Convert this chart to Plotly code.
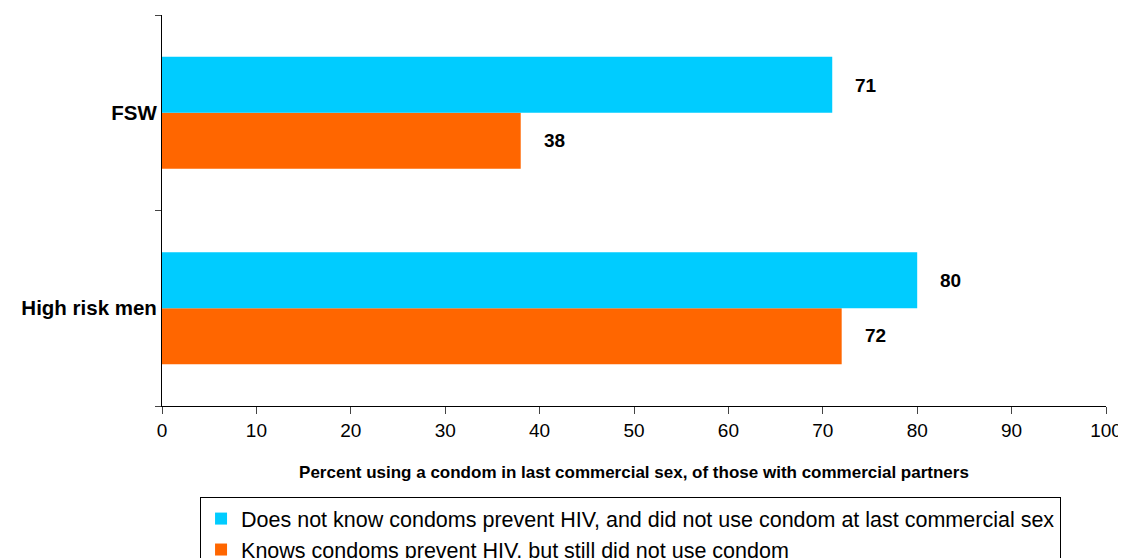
import plotly.graph_objects as go

categories = ["High risk men", "FSW"]
category_labels = ["<b>High risk men</b>", "<b>FSW</b>"]
series_names = [
    "Does not know condoms prevent HIV, and did not use condom at last commercial sex",
    "Knows condoms prevent HIV, but still did not use condom",
]
does_not_know = [80, 71]
knows = [72, 38]
colors = ["#00CCFF", "#FF6600"]
x_ticks = list(range(0, 101, 10))

font_main = "Liberation Sans, Arial, sans-serif"

fig = go.Figure()
# orange first so cyan sits on top within each group
fig.add_trace(go.Bar(y=categories, x=knows, orientation="h", name=series_names[1],
                     marker=dict(color=colors[1], line=dict(width=0)), legendrank=2))
fig.add_trace(go.Bar(y=categories, x=does_not_know, orientation="h", name=series_names[0],
                     marker=dict(color=colors[0], line=dict(width=0)), legendrank=1))

for cat, v in zip(categories, does_not_know):
    fig.add_annotation(x=v, y=cat, text=f"<b>{v}</b>", showarrow=False, xanchor="left",
                       xshift=21, yshift=27.5, font=dict(size=19, color="black", family=font_main))
for cat, v in zip(categories, knows):
    fig.add_annotation(x=v, y=cat, text=f"<b>{v}</b>", showarrow=False, xanchor="left",
                       xshift=21, yshift=-27.5, font=dict(size=19, color="black", family=font_main))

# the page body has an 8px default margin, so the figure is sized/offset to compensate
fig.update_layout(
    width=1118, height=550,
    margin=dict(l=154, r=20, t=7, b=152, autoexpand=False),
    paper_bgcolor="white", plot_bgcolor="white",
    barmode="group", bargap=0.427, bargroupgap=0,
    font=dict(family=font_main, color="black"),
    xaxis=dict(range=[0, 100], tickvals=x_ticks, showgrid=False, zeroline=False,
               showline=True, linecolor="black", linewidth=1, automargin=False,
               ticks="outside", ticklen=7, tickcolor="#444",
               tickfont=dict(size=19, family=font_main),
               title=dict(text="<b>Percent using a condom in last commercial sex, of those with commercial partners</b>",
                          font=dict(size=17, family=font_main), standoff=26)),
    yaxis=dict(type="category", categoryorder="array", categoryarray=categories,
               range=[-0.5, 1.5], showgrid=False, zeroline=False, automargin=False,
               showline=True, linecolor="black", linewidth=1,
               ticks="outside", ticklen=6, tickcolor="#444", tickson="boundaries",
               tickfont=dict(size=20.5, family=font_main),
               ticktext=category_labels, tickvals=categories),
    legend=dict(x=0.0403, y=-0.233, xanchor="left", yanchor="top",
                bordercolor="black", borderwidth=1, bgcolor="white",
                font=dict(size=21.5, family=font_main), itemwidth=30,
                tracegroupgap=0),
    showlegend=True,
)

fig.write_html("out.html")
